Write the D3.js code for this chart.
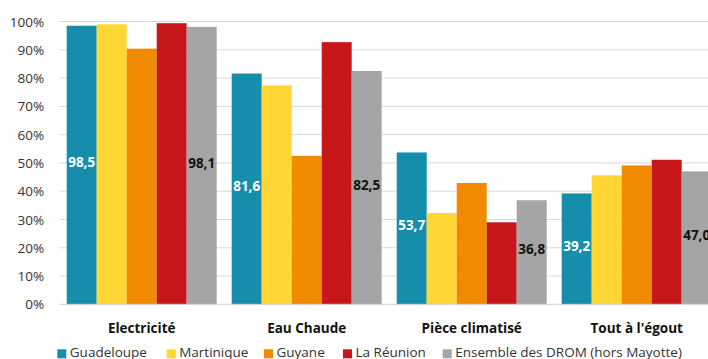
<!DOCTYPE html>
<html><head><meta charset="utf-8">
<script src="https://cdn.jsdelivr.net/npm/d3@7"></script>
<style>html,body{margin:0;padding:0;background:#fff;overflow:hidden}svg{display:block}</style>
</head><body>
<svg id="c" width="708" height="359"></svg>
<script>
const categories = ["Electricité", "Eau Chaude", "Pièce climatisé", "Tout à l'égout"];
const seriesNames = ["Guadeloupe", "Martinique", "Guyane", "La Réunion", "Ensemble des DROM (hors Mayotte)"];
const guadeloupe = [98.5, 81.6, 53.7, 39.2];
const martinique = [99.0, 77.4, 32.3, 45.6];
const guyane = [90.4, 52.5, 42.9, 49.1];
const reunion = [99.4, 92.7, 29.0, 51.1];
const ensemble = [98.1, 82.5, 36.8, 47.0];
const colors = ["#168DAA", "#FFD633", "#F08A00", "#C8171B", "#A5A5A5"];
const yTicks = [0, 10, 20, 30, 40, 50, 60, 70, 80, 90, 100];
const labelled = [0, 4];
const labelColors = ["#ffffff", "#111111", "", "", "#111111"];

const series = [guadeloupe, martinique, guyane, reunion, ensemble];
const font = "'Open Sans', sans-serif";
const svg = d3.select("#c");
const pLeft = 59.2, pRight = 719.2, pTop = 21.5, pBottom = 304.3;

const y = d3.scaleLinear().domain([0, 100]).range([pBottom, pTop]);
const x0 = d3.scaleBand().domain(categories).range([pLeft, pRight]).paddingInner(0.0909).paddingOuter(0.04545);
const x1 = d3.scaleBand().domain(d3.range(series.length)).range([0, x0.bandwidth()]);

// gridlines
svg.append("g").selectAll("line").data(yTicks.filter(d => d > 0)).join("line")
  .attr("x1", pLeft).attr("x2", 708).attr("y1", d => y(d)).attr("y2", d => y(d))
  .attr("stroke", "#d9d9d9").attr("stroke-width", 1);

// y axis labels
const yAxis = d3.axisLeft(y).tickValues(yTicks).tickFormat(d => d + "%").tickSize(0).tickPadding(15);
const ga = svg.append("g").attr("transform", `translate(${pLeft},0)`).call(yAxis);
ga.select(".domain").remove();
ga.selectAll("text").attr("font-family", font).attr("font-size", 13.5).attr("fill", "#333").attr("dy", "0.34em");

// bars
const groups = svg.append("g").selectAll("g").data(categories).join("g")
  .attr("transform", d => `translate(${x0(d)},0)`);
groups.selectAll("rect").data((c, ci) => series.map((s, si) => ({si, v: s[ci]}))).join("rect")
  .attr("x", d => x1(d.si)).attr("width", x1.bandwidth())
  .attr("y", d => y(d.v)).attr("height", d => y(0) - y(d.v))
  .attr("fill", d => colors[d.si]);

// value labels
groups.selectAll("text.v").data((c, ci) => labelled.map(si => ({si, v: series[si][ci]}))).join("text")
  .attr("class", "v")
  .attr("x", d => x1(d.si) + x1.bandwidth() / 2)
  .attr("y", d => (y(d.v) + y(0)) / 2 + 2)
  .attr("text-anchor", "middle")
  .attr("font-family", font).attr("font-weight", "bold").attr("font-size", 13.5)
  .attr("fill", d => labelColors[d.si])
  .text(d => d3.format(".1f")(d.v).replace(".", ","));

// baseline axis
svg.append("line").attr("x1", pLeft).attr("x2", 708).attr("y1", y(0)).attr("y2", y(0))
  .attr("stroke", "#d0d0d0").attr("stroke-width", 1);

// category labels
const xAxis = d3.axisBottom(x0).tickSize(0).tickPadding(19);
const gx = svg.append("g").attr("transform", `translate(0,${pBottom})`).call(xAxis);
gx.select(".domain").remove();
gx.selectAll("text").attr("font-family", font).attr("font-weight", "bold").attr("font-size", 13.5).attr("fill", "#111");

// legend
const legendX = [57.3, 166.7, 264, 343, 442.7];
const lg = svg.append("g").selectAll("g").data(seriesNames).join("g")
  .attr("transform", (d, i) => `translate(${legendX[i]},349.3)`);
lg.append("rect").attr("width", 9).attr("height", 9).attr("fill", (d, i) => colors[i]);
lg.append("text").attr("x", 12.5).attr("y", 8).attr("font-family", font).attr("font-size", 13.5)
  .attr("fill", "#333").text(d => d);
</script>
</body></html>
